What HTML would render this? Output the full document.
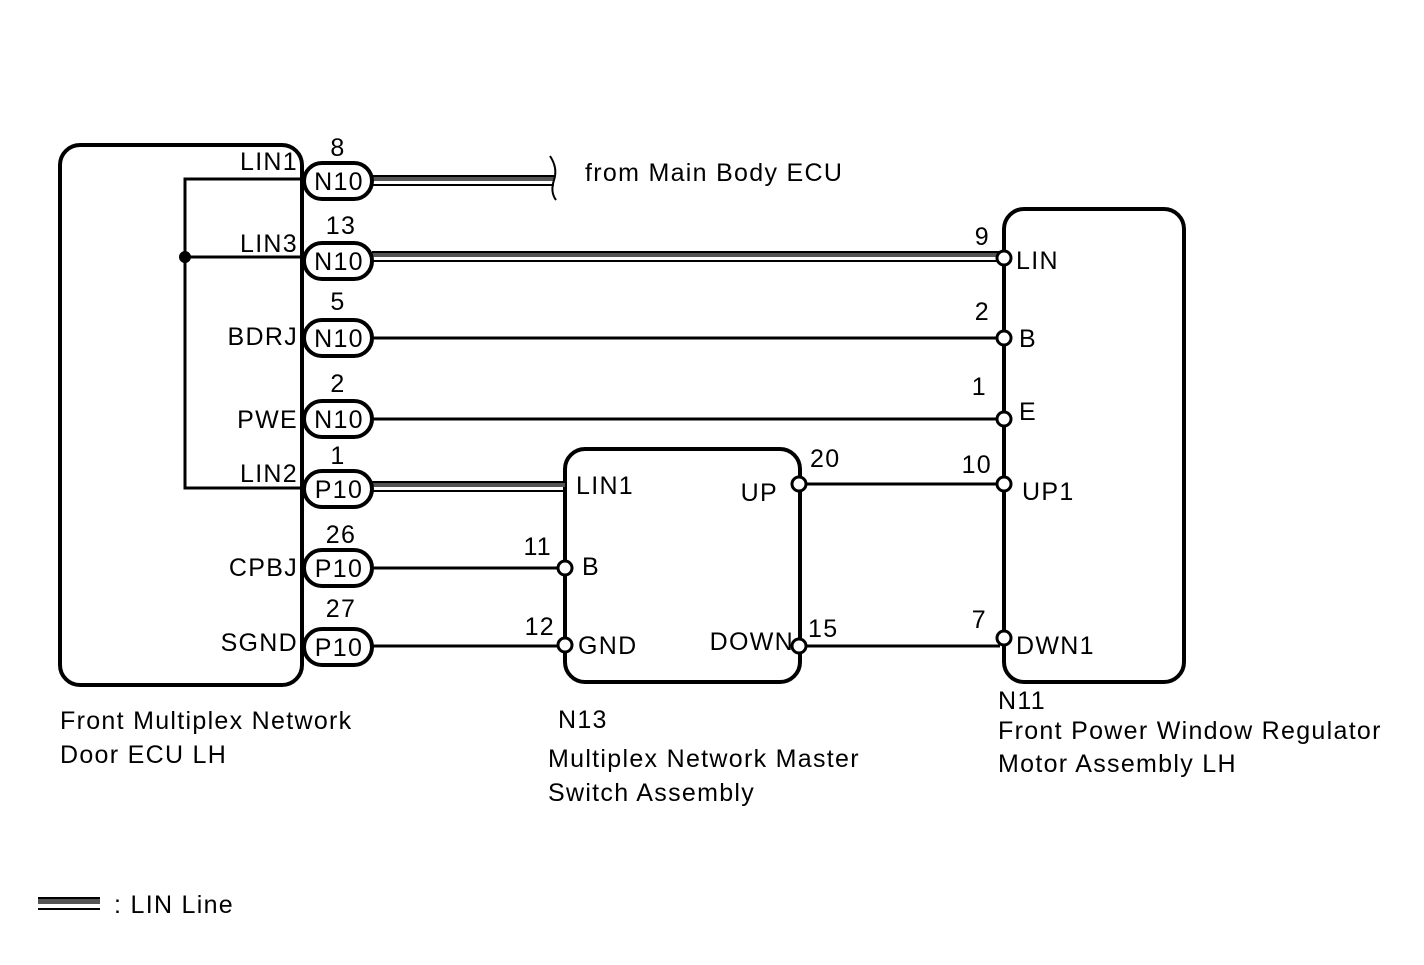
<!DOCTYPE html>
<html><head><meta charset="utf-8"><style>
html,body{margin:0;padding:0;background:#fff;}
svg text{font-family:"Liberation Sans",Arial,sans-serif;fill:#000;font-size:25px;letter-spacing:1.3px;}
</style></head><body>
<svg width="1424" height="960" viewBox="0 0 1424 960" xmlns="http://www.w3.org/2000/svg">
<g fill="none" stroke="#000" stroke-width="4">
<rect x="60" y="145" width="242" height="540" rx="20"/>
<rect x="565" y="449" width="235" height="233" rx="20"/>
<rect x="1004" y="209" width="180" height="473" rx="20"/>
</g>
<g stroke="#000" stroke-width="3" fill="none">
<polyline points="302,179 185,179 185,488 302,488"/>
<line x1="185" y1="257" x2="302" y2="257"/>
<line x1="372" y1="338" x2="1004" y2="338"/>
<line x1="372" y1="419" x2="1004" y2="419"/>
<line x1="372" y1="568" x2="565" y2="568"/>
<line x1="372" y1="646" x2="565" y2="646"/>
<line x1="800" y1="484" x2="1004" y2="484"/>
<line x1="800" y1="646" x2="1000" y2="646"/>
</g>
<circle cx="185" cy="257" r="6" fill="#000"/>
<g>
<rect x="372" y="175" width="182" height="2" fill="#000"/><rect x="372" y="177" width="182" height="4" fill="#555"/><rect x="372" y="184" width="182" height="2" fill="#000"/>
<rect x="372" y="251" width="632" height="2" fill="#000"/><rect x="372" y="253" width="632" height="4" fill="#555"/><rect x="372" y="260" width="632" height="2" fill="#000"/>
<rect x="372" y="481" width="193" height="2" fill="#000"/><rect x="372" y="483" width="193" height="4" fill="#555"/><rect x="372" y="490" width="193" height="2" fill="#000"/>
<rect x="38" y="897" width="62" height="2" fill="#000"/><rect x="38" y="899" width="62" height="5" fill="#555"/><rect x="38" y="908" width="62" height="2" fill="#000"/>
</g>
<path d="M550,156 Q558,168 554,180 Q550,192 556,200" fill="none" stroke="#000" stroke-width="2"/>
<g fill="#fff" stroke="#000" stroke-width="4">
<rect x="304" y="163" width="68" height="36" rx="18"/>
<rect x="304" y="243" width="68" height="36" rx="18"/>
<rect x="304" y="320" width="68" height="36" rx="18"/>
<rect x="304" y="401" width="68" height="36" rx="18"/>
<rect x="304" y="471" width="68" height="36" rx="18"/>
<rect x="304" y="550" width="68" height="36" rx="18"/>
<rect x="304" y="629" width="68" height="36" rx="18"/>
</g>
<g text-anchor="middle">
<text x="339" y="190">N10</text><text x="339" y="270">N10</text><text x="339" y="347">N10</text><text x="339" y="428">N10</text>
<text x="339" y="498">P10</text><text x="339" y="577">P10</text><text x="339" y="656">P10</text>
<text x="338" y="156">8</text><text x="341" y="234">13</text><text x="338" y="310">5</text><text x="338" y="392">2</text><text x="338" y="464">1</text><text x="341" y="543">26</text><text x="341" y="617">27</text>
</g>
<g fill="#fff" stroke="#000" stroke-width="3">
<circle cx="1004" cy="258" r="7"/><circle cx="1004" cy="338" r="7"/><circle cx="1004" cy="419" r="7"/><circle cx="1004" cy="484" r="7"/><circle cx="1004" cy="638" r="7"/>
<circle cx="565" cy="568" r="7"/><circle cx="565" cy="645" r="7"/>
<circle cx="799" cy="484" r="7"/><circle cx="799" cy="646" r="7"/>
</g>
<g>
<text x="298" y="170" text-anchor="end">LIN1</text>
<text x="298" y="252" text-anchor="end">LIN3</text>
<text x="298" y="345" text-anchor="end">BDRJ</text>
<text x="298" y="428" text-anchor="end">PWE</text>
<text x="298" y="482" text-anchor="end">LIN2</text>
<text x="298" y="576" text-anchor="end">CPBJ</text>
<text x="298" y="651" text-anchor="end">SGND</text>
<text x="585" y="181">from Main Body ECU</text>
<text x="576" y="494">LIN1</text>
<text x="582" y="575">B</text>
<text x="578" y="654">GND</text>
<text x="778" y="501" text-anchor="end">UP</text>
<text x="794" y="650" text-anchor="end">DOWN</text>
<text x="810" y="467">20</text><text x="808" y="637">15</text>
<text x="552" y="555" text-anchor="end">11</text><text x="555" y="635" text-anchor="end">12</text>
<text x="990" y="245" text-anchor="end">9</text><text x="990" y="320" text-anchor="end">2</text><text x="987" y="395" text-anchor="end">1</text><text x="992" y="473" text-anchor="end">10</text><text x="987" y="628" text-anchor="end">7</text>
<text x="1016" y="269">LIN</text><text x="1019" y="347">B</text><text x="1019" y="420">E</text><text x="1022" y="500">UP1</text><text x="1016" y="654">DWN1</text>
<text x="60" y="729">Front Multiplex Network</text>
<text x="60" y="763">Door ECU LH</text>
<text x="558" y="728">N13</text>
<text x="548" y="767">Multiplex Network Master</text>
<text x="548" y="801">Switch Assembly</text>
<text x="998" y="709">N11</text>
<text x="998" y="739">Front Power Window Regulator</text>
<text x="998" y="772">Motor Assembly LH</text>
<text x="114" y="913">: LIN Line</text>
</g>
</svg>
</body></html>
